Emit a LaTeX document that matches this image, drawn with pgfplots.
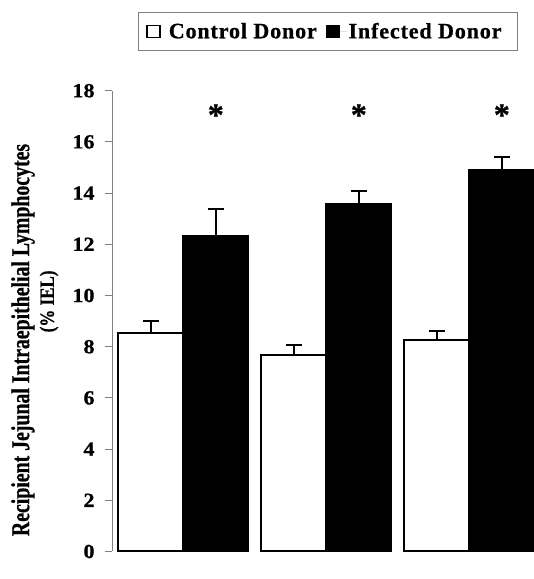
\documentclass[border=0pt]{standalone}
\usepackage{pgfplots}
\pgfplotsset{compat=1.18}
\usepackage{fontspec}
\setmainfont{Liberation Serif}[BoldFeatures={FakeBold=0.8}]
\newfontfamily\legfont{Liberation Serif}[LetterSpace=4,BoldFeatures={FakeBold=0.8}]
\begin{document}
\begin{tikzpicture}
\begin{axis}[
  at={(0,0)}, anchor=south west,
  scale only axis,
  width=428.8pt, height=460.8pt,
  xmin=-0.4986, xmax=2.5,
  ymin=0, ymax=18,
  axis x line=none,
  axis y line*=left,
  xtick=\empty,
  y axis line style={gray, line width=0.8pt},
  ytick={0,2,...,18},
  tick align=outside,
  major tick length=7pt,
  ytick style={gray, line width=0.8pt},
  yticklabel style={font=\bfseries\fontsize{20}{24}\selectfont, xscale=1.1, xshift=-6pt},
  /pgf/number format/assume math mode=true,
  ybar, bar width=0.455,
  clip=false,
  legend columns=2,
  legend style={at={(axis description cs:0.0599,1.1708)}, anchor=north west,
    draw=gray, line width=0.8pt, inner xsep=8pt, inner ysep=8.5pt,
    font=\legfont\bfseries\fontsize{22}{26}\selectfont,
    /tikz/every even column/.append style={column sep=7pt}},
]
\addplot[fill=white, draw=black, line width=2pt, bar shift=-0.2275,
  legend image code/.code={\path[draw=none] (0pt,0pt) -- (20pt,0pt); \draw[line width=1.5pt, draw=black, fill=white] (0pt,-6pt) rectangle (13pt,6pt);},
  error bars/.cd, y dir=plus, y explicit,
  error bar style={line width=2pt, black},
  error mark options={rotate=90, black, line width=2pt, mark size=8pt}]
  coordinates {(0,8.55) +- (0,0.45) (1,7.68) +- (0,0.37) (2,8.25) +- (0,0.38)};
\addlegendentry{Control Donor}
\addplot[fill=black, draw=black, line width=2pt, bar shift=0.2275,
  legend image code/.code={\path[draw=none] (0pt,0pt) -- (20pt,0pt); \draw[line width=1.5pt, draw=black, fill=black] (0pt,-6pt) rectangle (13pt,6pt);},
  error bars/.cd, y dir=plus, y explicit,
  error bar style={line width=2pt, black},
  error mark options={rotate=90, black, line width=2pt, mark size=8pt}]
  coordinates {(0,12.32) +- (0,1.07) (1,13.57) +- (0,0.53) (2,14.9) +- (0,0.52)};
\addlegendentry{Infected Donor\hspace*{6pt}}
\node[font=\bfseries\fontsize{32}{36}\selectfont] at (axis cs:0.2275,17.05) {*};
\node[font=\bfseries\fontsize{32}{36}\selectfont] at (axis cs:1.2275,17.05) {*};
\node[font=\bfseries\fontsize{32}{36}\selectfont] at (axis cs:2.2275,17.05) {*};
\node[rotate=90, yscale=1.3, font=\bfseries\fontsize{19.8}{23}\selectfont] at (axis description cs:-0.2076,0.459) {Recipient Jejunal Intraepithelial Lymphocytes};
\node[rotate=90, yscale=1.2, font=\bfseries\fontsize{17}{20}\selectfont] at (axis description cs:-0.1469,0.5427) {(\% IEL)};
\coordinate (bbsw) at (axis description cs:-0.2612,-0.05968);
\coordinate (bbne) at (axis description cs:0.9841,1.19683);
\end{axis}
\pgfresetboundingbox
\path[use as bounding box] (bbsw) rectangle (bbne);
\end{tikzpicture}
\end{document}
